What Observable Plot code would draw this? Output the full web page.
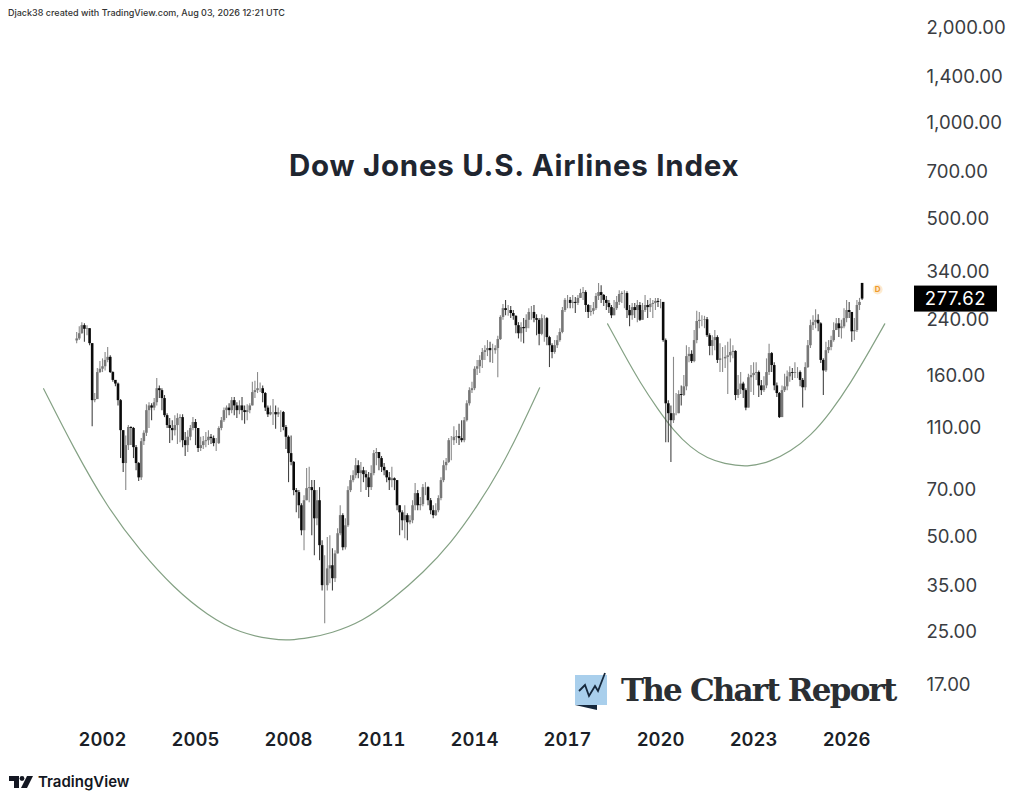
<!DOCTYPE html>
<html>
<head>
<meta charset="utf-8">
<script src="https://cdn.jsdelivr.net/npm/d3@7"></script>
<script src="https://cdn.jsdelivr.net/npm/@observablehq/plot@0.6"></script>
<style>
html,body{margin:0;padding:0;background:#fff;overflow:hidden}
#wrap{position:relative;width:1024px;height:804px;font-family:Inter,sans-serif}
#wrap svg{display:block}
.ov{position:absolute;white-space:nowrap;line-height:1}
</style>
</head>
<body>
<div id="wrap">
  <div class="ov" style="left:8px;top:8px;font-size:9px;font-weight:500;color:#333">Djack38 created with TradingView.com, Aug 03, 2026 12:21 UTC</div>
  <div class="ov" style="left:289px;top:151px;font-size:29.5px;font-weight:700;letter-spacing:0.74px;color:#1f2630">Dow Jones U.S. Airlines Index</div>
  <svg class="ov" style="left:574px;top:670px" width="36" height="42" viewBox="0 0 36 42">
    <rect x="1" y="5" width="32" height="30" fill="#a9cfec"/>
    <path d="M1 35 L23 35 L23 40 Z" fill="#16283c"/>
    <path d="M5 21 L11 15 L15 26 L21 16 L24 21 L31 3" fill="none" stroke="#16283c" stroke-width="1.8"/>
  </svg>
  <div class="ov" style="left:621px;top:675px;font-family:'DejaVu Serif',serif;font-size:31px;font-weight:700;color:#2b2f33;letter-spacing:-1.8px">The Chart Report</div>
  <svg class="ov" style="left:9px;top:775px" width="25" height="14" viewBox="0 0 25 14">
    <path d="M0 1 H10 V13 H5 V6 H0 Z" fill="#131722"/><circle cx="13" cy="3.5" r="2.4" fill="#131722"/><path d="M18 1 H24 L18 13 H12 Z" fill="#131722"/>
  </svg>
  <div class="ov" style="left:38px;top:774px;font-size:15px;font-weight:600;color:#131722">TradingView</div>
</div>
<script>
const startYear = 2001 + 2 / 12;
const closes = [208,216,229,223,224,201,133,134,163,167,170,178,182,163,154,150,133,107,84.3,96,109.5,108.7,94.6,84.3,76,98.8,105,123.7,128,126,131,145,143,135,119.3,111,108.7,107,111,116.8,117.6,99.5,96,102,108.7,113.5,108.7,94,96,98.8,99.5,102,101,97.4,97.4,108.7,115,123.7,126,123.7,133,128,123.7,128,123.7,122,123.7,128,141,143,145,145,140,126,120,122,122,120,122,122,109.5,102,90.6,85,69.3,68.3,62.1,51.8,64.4,70.3,70.8,69.3,56.5,64.4,46.5,34.8,34.8,39.3,40.2,36.6,43.8,
50.7,57.8,45.8,53.7,69.3,74.5,77.2,83,78.4,80,77.8,76,70.8,78.4,90.6,91.3,87.4,82,80,76,74.5,75.5,74.5,62.1,59,55.7,57.8,54.9,55.7,62.1,67.8,62.1,62.6,70.8,70.8,64.4,59.9,57.8,59.9,65.4,74.5,83,85,99.5,99.5,102,102.5,101,99.5,115,130,143,145,167,170,178,188.5,191,194,191,191,194,207,243,259,255.5,255.5,250,245,229,216,226,224,238,252,252,241,238,215,241,241,210,198,188.5,198,205.5,218,255.5,275,275,269,271,269,279,289,291,265,252,254,259,283,291,
285,275,269,261,246,259,271,287,289,289,255.5,246,261,255.5,265,238,255.5,265,261,267,269,273,271,271,205.5,130,121,115,121,121,139,138,147,183,186,176.5,205.5,236,238,238,239,213,197,205.5,210,178,180,180,182,184,188.5,190,138,144,150,143,126,157,159.5,162,163,148,143,148,163,187,171.5,148,140,117.6,143,147,158,163,162,163,163,154,146,169,198,229,234,238,232,178,165,191,195.5,205.5,221,232,224,227,241,255.5,252,219,221,265,271,277.62];
const highs = [218,227,234,232,229,224,201,140,168,176.5,180,188.5,195.5,184,164,151,151,134,107,103,111,110,109.5,96,85,101,107,129,131,130,135,156,148,145,138,121,116.8,115,119.3,121,120,120,105.5,107,111,117.6,116,108.7,102,102.5,105.5,107,104,103,101,110,117.6,126,128,130,136,136,131,133,136,128,129,130,152,153,163,151,148,141,128,128,134,128,126,123.7,123,111,103,103,85.5,70.3,69.3,63,66.8,81.3,82,74.5,74.5,69.3,70.8,48.2,43.2,49.3,50,45.5,44.8,
52.6,62.1,58.6,56.5,71.3,77.2,80,87.4,86,85,82,80,79,83,92.6,94,91.3,88.7,84.3,80,79,82,76,74.5,62.1,59.9,62.1,58.6,57.8,64.4,72.9,69.3,65.9,72.4,73.4,71.3,65.4,62.1,63,66.8,76,86,87.4,101,102.5,110,107,112,115,117.6,133,146,152,170,178,184,194,198,205.5,203,200,198,212,246,267,275,265,263,255.5,246,234,234,241,248,259,263,265,248,241,248,246,243,212,201,205.5,213,224,261,279,285,281,285,281,285,298,302,295,267,265,271,289,311,
306,287,283,275,265,275,283,295,293,295,293,265,269,269,275,271,269,285,275,279,275,279,279,277,259,208,133,128,182,140,143,148,159.5,198,195.5,191,221,254,252,246,245,243,216,213,221,213,201,195.5,198,203,208,198,191,159.5,163,152,145,161,171.5,175,175,165,154,158,180,200,188.5,175,151,141,148,161,165,170,168,175,169,165,156,175,205.5,238,246,257,248,234,180,203,205.5,212,234,241,241,238,259,275,271,252,241,275,279,311];
const lows = [201,205.5,215,203,213,198,110,131,135,162,163,165,175,162,152,147,128,87.4,79,69.3,92.6,96,87.4,80,74,74.5,96,102.5,108.7,115,123.7,128,135,123.7,117.6,108.7,97.4,99.5,103,96.7,98,94.6,88.7,91.3,99.5,107,96,91.3,92,93.3,94.6,96,96.7,95.3,92,96.7,107,113.5,116.8,119.3,121,119.3,116.8,120,115,112,115,121,128,135,140,141,131,123,117.6,119.3,111,108,117.6,105.5,107,93.3,73.4,83,66.8,59,56.5,50,44.8,64.4,63.5,50,43.2,53.7,41.7,33.5,26.4,33.5,35.3,33.5,35.6,
43.8,50,44.8,45.1,53,68.3,73.4,75.5,75.5,68.3,73.4,69.3,65.9,69.3,77.2,83,80,79,77.2,73.4,69.3,70.8,69.3,59.9,50,51.8,48.9,48.2,54.1,54.5,59.9,59.9,59.9,61.7,66.8,62.1,58.2,56.5,57.4,59,64.4,73.4,80,84.3,86,96,97.4,96,98,98,114,128,140,143,159.5,162,168,178,183,175,174,186,157,205.5,238,246,245,241,238,216,208,203,201,218,224,238,234,213,198,213,203,198,169,180,186,194,203,216,252,259,259,259,250,265,279,275,252,241,245,248,255.5,275,
269,263,255.5,250,241,246,255.5,265,269,259,241,227,238,241,234,236,238,252,241,252,241,255.5,261,259,203,98,98,85,112.7,119.3,121,128,137,143,175,174,175,201,224,227,224,210,184,184,191,174,163,163,168,139,175,180,133,135,139,135,123.7,128,141,138,154,136,138,141,145,159.5,163,143,136,116.8,118.5,141,143,152,154,156,156,147,126,143,168,194,221,224,219,174,138,163,187,191,203,221,210,208,224,234,241,203,205.5,218,255.5,275];
const lastOpen = 311;
const dividendMark = {year: 2027, price: 297.6, label: "D"};

const arc1Years = [2000.10,2001.06,2002.16,2003.23,2004.29,2005.39,2006.45,2007.52,2008.0,2008.71,2009.35,2010.39,2011.39,2012.35,2013.23,2014.10,2014.84,2015.48,2016.10];
const arc1Prices = [145,94.6,61.2,44.6,34.3,28,24.6,23.55,23.4,23.9,24.6,26.8,31.7,38.3,47.2,62.1,81.3,108,146];
const arc2Years = [2018.29,2018.81,2019.35,2019.90,2020.42,2020.97,2021.52,2022.03,2022.81,2023.55,2024.19,2024.84,2025.48,2026.13,2026.77,2027.23];
const arc2Prices = [232,187,151,125.5,107,94.6,87.4,84.3,82,85.5,92,103,122,151,193,232];

const yearTicks = [2002,2005,2008,2011,2014,2017,2020,2023,2026];
const priceTicks = [2000,1400,1000,700,500,340,240,160,110,70,50,35,25,17];

const n = Math.min(closes.length, highs.length, lows.length);
const candles = d3.range(n).map(i => {
  const open = i === 0 ? 205 : i === n - 1 ? lastOpen : closes[i - 1];
  return {year: startYear + i / 12, open, close: closes[i],
    high: Math.max(highs[i], open, closes[i]), low: Math.min(lows[i], open, closes[i]),
    up: closes[i] >= open};
});
const arc1 = arc1Years.map((year, i) => ({year, price: arc1Prices[i]}));
const arc2 = arc2Years.map((year, i) => ({year, price: arc2Prices[i]}));
const last = closes[n - 1];
const UP = "#777", DOWN = "#0a0a0a";

const priceTag = (index, scales, values, dims) => {
  const g = d3.create("svg:g");
  const y = scales.y(last);
  const x = dims.width - 110;
  g.append("rect").attr("x", x).attr("y", y - 13).attr("width", 83).attr("height", 26).attr("fill", "#000");
  g.append("text").attr("x", x + 41.5).attr("y", y).attr("dy", "0.36em").attr("text-anchor", "middle")
    .attr("fill", "#fff").attr("font-size", 18.5).attr("letter-spacing", "0.6px").text(d3.format(".2f")(last));
  return g.node();
};

const chart = Plot.plot({
  width: 1024, height: 804,
  marginTop: 10, marginBottom: 82, marginLeft: 0, marginRight: 119,
  style: {fontFamily: "Inter, sans-serif", background: "#fff", overflow: "visible"},
  x: {type: "linear", domain: [1998.71, 2027.9]},
  y: {type: "log", domain: [12.91, 2247], axis: null},
  marks: [
    Plot.line(arc1, {x: "year", y: "price", stroke: "#84a184", strokeWidth: 1.2, curve: "basis"}),
    Plot.line(arc2, {x: "year", y: "price", stroke: "#84a184", strokeWidth: 1.2, curve: "basis"}),
    Plot.ruleX(candles, {x: "year", y1: "low", y2: "high", stroke: d => d.up ? "#8a8a8a" : "#444", strokeWidth: 1.1}),
    Plot.ruleX(candles, {x: "year", y1: "open", y2: "close", stroke: d => d.up ? UP : DOWN, strokeWidth: 2.6}),
    Plot.dot([dividendMark], {x: "year", y: "price", r: 5, fill: "#fdebd0"}),
    Plot.text([dividendMark], {x: "year", y: "price", text: "label", fill: "#ee9a2c", fontSize: 8, fontWeight: 700}),
    Plot.axisX({ticks: yearTicks, tickFormat: d => String(d), tickSize: 0, tickPadding: 10, fontSize: 18.5, fontWeight: 600, fill: "#1b1f27", label: null}),
    Plot.text(priceTicks, {y: d => d, text: d3.format(",.2f"), frameAnchor: "right", textAnchor: "start", dx: 21, dy: 1, fontSize: 18.6, fill: "#3a3d42"}),
    priceTag
  ]
});
document.getElementById("wrap").prepend(chart);
</script>
</body>
</html>
